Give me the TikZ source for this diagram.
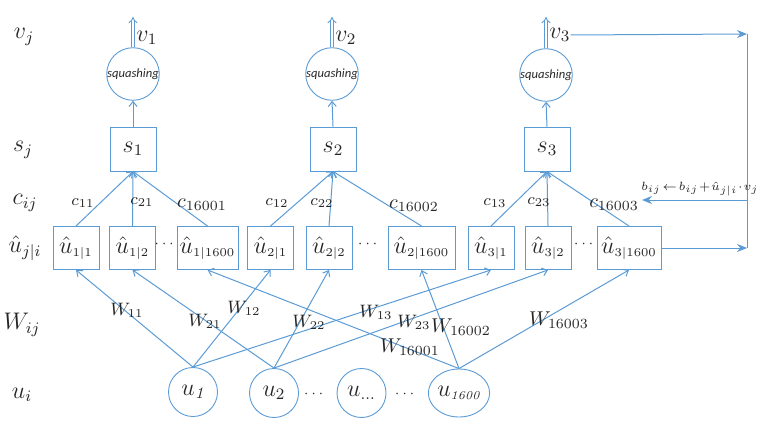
\documentclass[tikz,border=0pt]{standalone}
\usepackage{amsmath}
\usepackage{fontspec}
\newfontfamily\squashfont{Carlito}
\usetikzlibrary{arrows.meta, shapes.geometric}
\definecolor{lineblue}{RGB}{91,155,213}

\begin{document}
\begin{tikzpicture}[x=0.5pt, y=-0.5pt,
  every node/.style={text=black!85},
  conn/.style={lineblue, line width=0.5pt, -{Straight Barb[length=2.5pt,width=4pt]}},
  feed/.style={lineblue, line width=0.5pt, -{Stealth[length=5pt,width=4pt]}},
  plainline/.style={lineblue, line width=0.5pt},
  outarrow/.style={lineblue, double=white, double distance=1.1pt, line width=0.45pt, -{Implies}},
  ubox/.style={draw=lineblue, line width=0.45pt, minimum width=23pt, minimum height=21.5pt, inner sep=0pt, font=\large},
  sbox/.style={draw=lineblue, line width=0.45pt, minimum width=23pt, minimum height=22pt, inner sep=1pt, font=\large},
  sqcirc/.style={draw=lineblue, circle, line width=0.45pt, minimum size=24.5pt, inner sep=0pt, font=\squashfont\itshape\fontsize{6.3pt}{7pt}\selectfont},
  ucirc/.style={draw=lineblue, circle, line width=0.45pt, minimum size=24.5pt, inner sep=0pt, font=\large},
  dots/.style={font=\scriptsize, inner sep=0pt},
  rowlabel/.style={font=\large},
  clabel/.style={font=\footnotesize},
  wlabel/.style={font=\small}
]
\useasboundingbox (0,0) rectangle (769,433);

\node[rowlabel] (lv) at (24,37) {$v_j$};
\node[rowlabel] (ls) at (23,150) {$s_j$};
\node[rowlabel] (lc) at (25,203) {$c_{ij}$};
\node[rowlabel] (lh) at (25,248) {$\hat{u}_{j|i}$};
\node[rowlabel] (lw) at (22,325) {$W_{ij}$};
\node[rowlabel] (lu) at (22,395) {$u_i$};

\node[sqcirc] (sq1) at (133,74) {squashing};
\node[sqcirc] (sq2) at (332,74) {squashing};
\node[sqcirc] (sq3) at (546,75) {squashing};
\coordinate (o1) at (133,17);
\coordinate (o2) at (332,17);
\coordinate (o3) at (546,17);
\node[rowlabel, anchor=west, inner sep=0pt] (v1) at (136,38) {$v_1$};
\node[rowlabel, anchor=west, inner sep=0pt] (v2) at (335,38) {$v_2$};
\node[rowlabel, anchor=west, inner sep=0pt] (v3) at (549,35) {$v_3$};

\node[sbox] (s1) at (133,149) {$s_1$};
\node[sbox] (s2) at (333,149) {$s_2$};
\node[sbox] (s3) at (547,149) {$s_3$};

\node[ubox] (h11) at (76,248) {$\hat{u}_{\scriptscriptstyle 1|1}$};
\node[ubox] (h12) at (132.5,248) {$\hat{u}_{\scriptscriptstyle 1|2}$};
\node[dots] (d1) at (165.5,244) {$\cdots$};
\node[ubox, minimum width=30.5pt] (h1n) at (207.5,248) {$\hat{u}_{\scriptscriptstyle 1|1600}$};
\node[ubox] (h21) at (270.5,248) {$\hat{u}_{\scriptscriptstyle 2|1}$};
\node[ubox] (h22) at (329,248) {$\hat{u}_{\scriptscriptstyle 2|2}$};
\node[dots] (d2) at (369,244) {$\cdots$};
\node[ubox, minimum width=33.5pt] (h2n) at (421.5,248) {$\hat{u}_{\scriptscriptstyle 2|1600}$};
\node[ubox] (h31) at (491,248) {$\hat{u}_{\scriptscriptstyle 3|1}$};
\node[ubox] (h32) at (548,248) {$\hat{u}_{\scriptscriptstyle 3|2}$};
\node[dots] (d3) at (585,244) {$\cdots$};
\node[ubox, minimum width=32pt] (h3n) at (629,248) {$\hat{u}_{\scriptscriptstyle 3|1600}$};

\node[ucirc] (u1) at (193,392) {$u_{\mathit{1}}$};
\node[ucirc] (u2) at (274,393) {$u_2$};
\node[dots] (d4) at (315,394) {$\cdots$};
\node[ucirc] (ud) at (361.5,393) {$u_{\dots}$};
\node[dots] (d5) at (406,394) {$\cdots$};
\node[ucirc, ellipse, minimum width=30pt, minimum height=24pt] (un) at (459,393) {$u_{\mathit{\scriptscriptstyle 1600}}$};

\draw[outarrow] (sq1.north) -- (o1);
\draw[outarrow] (sq2.north) -- (o2);
\draw[outarrow] (sq3.north) -- (o3);
\draw[conn] (s1.north) -- (sq1.south);
\draw[conn] (s2.north) -- (sq2.south);
\draw[conn] (s3.north) -- (sq3.south);

\draw[conn] (h11.north) -- (s1.south);
\draw[conn] (h12.north) -- (s1.south);
\draw[conn] (h1n.north) -- (s1.south);
\draw[conn] (h21.north) -- (s2.south);
\draw[conn] (h22.north) -- (s2.south);
\draw[conn] (h2n.north) -- (s2.south);
\draw[conn] (h31.north) -- (s3.south);
\draw[conn] (h32.north) -- (s3.south);
\draw[conn] (h3n.north) -- (s3.south);

\node[clabel] (c11) at (83,203) {$c_{11}$};
\node[clabel] (c21) at (142,202) {$c_{21}$};
\node[font=\normalsize] (c16001) at (202,205) {$c_{16001}$};
\node[clabel] (c12) at (277,203) {$c_{12}$};
\node[clabel] (c22) at (322,203) {$c_{22}$};
\node[font=\normalsize] (c16002) at (414,206) {$c_{16002}$};
\node[clabel] (c13) at (495,203) {$c_{13}$};
\node[clabel] (c23) at (539,202) {$c_{23}$};
\node[font=\normalsize] (c16003) at (614,205) {$c_{16003}$};

\draw[conn] (u1.north) -- (h11.south);
\draw[conn] (u1.north) -- (h21.south);
\draw[conn] (u1.north) -- (h31.south);
\draw[conn] (u2.north) -- (h12.south);
\draw[conn] (u2.north) -- (h22.south);
\draw[conn] (u2.north) -- (h32.south);
\draw[conn] (un.north) -- (h1n.south);
\draw[conn] (un.north) -- (h2n.south);
\draw[conn] (un.north) -- (h3n.south);

\node[wlabel] (w11) at (127,310) {$W_{11}$};
\node[wlabel] (w21) at (205,321) {$W_{21}$};
\node[wlabel] (w12) at (244,308) {$W_{12}$};
\node[wlabel] (w22) at (309,322) {$W_{22}$};
\node[wlabel] (w13) at (376,312) {$W_{13}$};
\node[wlabel] (w23) at (414,322) {$W_{23}$};
\node[font=\normalsize] (w16001) at (410,347) {$W_{16001}$};
\node[font=\normalsize] (w16002) at (461,327) {$W_{16002}$};
\node[font=\normalsize] (w16003) at (559,320) {$W_{16003}$};

\coordinate (fbtop) at (747,34);
\coordinate (fbmid) at (747,200);
\coordinate (fbbot) at (747,248);
\coordinate (fbend) at (642,200);
\draw[feed] (v3.east) -- (fbtop);
\draw[feed] (h3n.east) -- (fbbot);
\draw[plainline] (fbtop) -- (fbbot);
\draw[feed] (fbmid) -- (fbend);
\node[font=\fontsize{6pt}{7pt}\selectfont, inner sep=0pt] (rule) at (700,189) {$b_{ij}\!\leftarrow\! b_{ij}\!+\!\hat{u}_{j|i}\!\cdot\! v_j$};
\end{tikzpicture}
\end{document}
